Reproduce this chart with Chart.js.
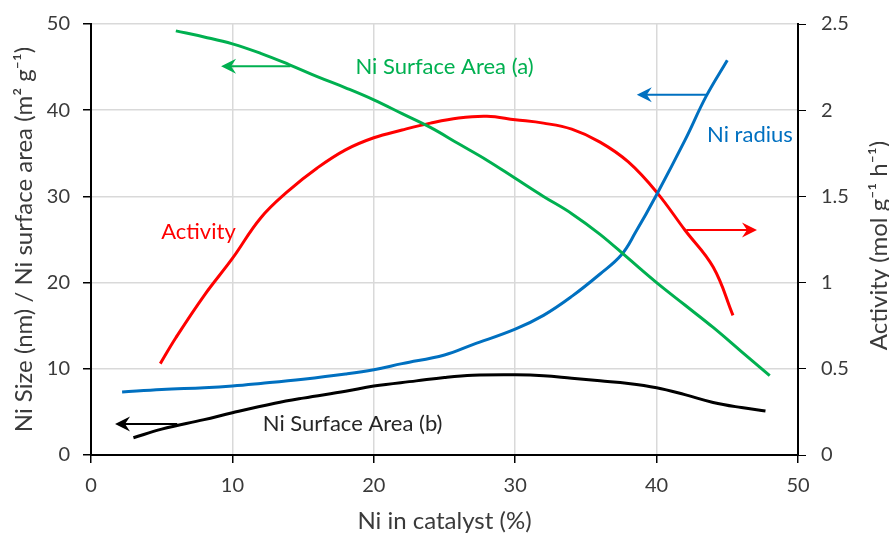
<!DOCTYPE html>
<html>
<head>
<meta charset="utf-8">
<style>
  html, body { margin: 0; padding: 0; background: #fff; }
  #wrap { width: 889px; height: 536px; }
</style>
<script src="https://cdn.jsdelivr.net/npm/chart.js@4/dist/chart.umd.min.js"></script>
</head>
<body>
<div id="wrap"><canvas id="myChart"></canvas></div>
<script>
// data (x = Ni in catalyst %)
const areaA_x = [6, 8, 10, 12, 14, 16, 18, 20, 22, 24, 26, 28, 30, 32, 34, 36, 38, 40, 42, 44, 46, 48];
const areaA_y = [49.2, 48.5, 47.7, 46.6, 45.3, 43.9, 42.6, 41.2, 39.6, 38.0, 36.1, 34.2, 32.1, 30.0, 28.0, 25.6, 22.8, 20.0, 17.4, 14.8, 12.0, 9.2];

const radius_x = [2.2, 5, 8, 10, 12, 15, 18, 20, 22, 25, 27, 30, 32, 34, 36, 37.5, 38.5, 40, 42, 43.5, 45];
const radius_y = [7.3, 7.6, 7.8, 8.0, 8.3, 8.8, 9.4, 9.9, 10.6, 11.6, 12.8, 14.6, 16.2, 18.4, 21.0, 23.2, 25.8, 30.2, 36.5, 41.6, 45.8];

const areaB_x = [3, 5, 8, 10, 13, 15, 18, 20, 23, 25, 27, 30, 32, 34, 36, 38, 40, 42, 44, 46, 47.7];
const areaB_y = [2.0, 3.0, 4.1, 4.9, 6.0, 6.6, 7.4, 8.0, 8.6, 9.0, 9.25, 9.3, 9.2, 8.9, 8.6, 8.3, 7.8, 7.0, 6.1, 5.5, 5.1];

const activity_x = [4.9, 6, 8, 10, 12, 14, 16, 18, 20, 22, 24, 26, 28, 30, 32, 34, 36, 38, 40, 42, 44, 45.4];
const activity_y = [0.53, 0.68, 0.925, 1.14, 1.375, 1.535, 1.665, 1.77, 1.84, 1.885, 1.925, 1.955, 1.965, 1.945, 1.925, 1.89, 1.815, 1.7, 1.525, 1.305, 1.09, 0.81];

const xTicks = [0, 10, 20, 30, 40, 50];
const leftTicks = [0, 10, 20, 30, 40, 50];
const rightTicks = [0, 0.5, 1, 1.5, 2, 2.5];

// labels and arrows, in data units of the x axis and the left axis
const notes = [
  { text: "Ni Surface Area (a)", x: 25.0, y: 45.0, color: "#00b050" },
  { text: "Ni radius", x: 46.6, y: 37.1, color: "#0070c0" },
  { text: "Activity", x: 7.6, y: 25.9, color: "#ff0000" },
  { text: "Ni Surface Area (b)", x: 18.5, y: 3.6, color: "#262626" },
];
const arrows = [
  { x1: 14.1, x2: 9.2, y: 45.1, color: "#00b050" },
  { x1: 43.5, x2: 38.6, y: 41.8, color: "#0070c0" },
  { x1: 42.1, x2: 47.1, y: 26.1, color: "#ff0000" },
  { x1: 6.1, x2: 1.7, y: 3.6, color: "#000000" },
];

const rightTitle = "Activity (mol g\u207b\u00b9 h\u207b\u00b9)";

function toPoints(xs, ys) {
  return xs.map((x, i) => ({ x: x, y: ys[i] }));
}

const font = "Lato, 'Open Sans', sans-serif";
const textColor = "#3a3a3a";

// fixed side width, and no extra room asked above/below for the tick labels
function fitSide(s) {
  s.width = 91;
  s.paddingTop = 0;
  s.paddingBottom = 0;
}

const notesPlugin = {
  id: "notes",
  afterDatasetsDraw(chart) {
    const ctx = chart.ctx;
    const xs = chart.scales.x;
    const ys = chart.scales.y;
    ctx.save();
    arrows.forEach((a) => {
      let px1 = xs.getPixelForValue(a.x1);
      let px2 = xs.getPixelForValue(a.x2);
      let py = ys.getPixelForValue(a.y);
      let dir = px2 > px1 ? 1 : -1;
      ctx.strokeStyle = a.color;
      ctx.fillStyle = a.color;
      ctx.lineWidth = 2;
      ctx.beginPath();
      ctx.moveTo(px1, py);
      ctx.lineTo(px2 - dir * 8, py);
      ctx.stroke();
      ctx.beginPath();
      ctx.moveTo(px2, py);
      ctx.lineTo(px2 - dir * 15, py - 7.5);
      ctx.lineTo(px2 - dir * 10, py);
      ctx.lineTo(px2 - dir * 15, py + 7.5);
      ctx.closePath();
      ctx.fill();
    });
    ctx.font = "22px " + font;
    ctx.textAlign = "center";
    ctx.textBaseline = "middle";
    notes.forEach((n) => {
      ctx.fillStyle = n.color;
      ctx.fillText(n.text, xs.getPixelForValue(n.x), ys.getPixelForValue(n.y));
    });

    // right axis title reads bottom to top
    ctx.translate(879, (chart.chartArea.top + chart.chartArea.bottom) / 2 + 6);
    ctx.rotate(-Math.PI / 2);
    ctx.fillStyle = textColor;
    ctx.font = "24px " + font;
    ctx.fillText(rightTitle, 0, 0);
    ctx.restore();
  },
};

function line(label, pts, color, axis) {
  return {
    label: label,
    data: pts,
    yAxisID: axis,
    showLine: true,
    borderColor: color,
    backgroundColor: color,
    borderWidth: 3,
    pointRadius: 0,
    tension: 0.4,
    fill: false,
  };
}

const ctx = document.getElementById("myChart").getContext("2d");
const myChart = new Chart(ctx, {
  type: "scatter",
  data: {
    datasets: [
      line("Ni Surface Area (a)", toPoints(areaA_x, areaA_y), "#00b050", "y"),
      line("Ni radius", toPoints(radius_x, radius_y), "#0070c0", "y"),
      line("Ni Surface Area (b)", toPoints(areaB_x, areaB_y), "#000000", "y"),
      line("Activity", toPoints(activity_x, activity_y), "#ff0000", "y2"),
    ],
  },
  options: {
    responsive: true,
    maintainAspectRatio: false,
    animation: false,
    layout: { padding: { top: 24, left: 0, right: 0, bottom: 0 } },
    plugins: {
      legend: { display: false },
      tooltip: { enabled: false },
    },
    scales: {
      x: {
        type: "linear",
        min: 0,
        max: 50,
        afterBuildTicks: (s) => { s.ticks = xTicks.map((v) => ({ value: v })); },
        afterFit: (s) => { s.height = 81; },
        border: { color: "#000", width: 2 },
        grid: { color: "#d9d9d9", lineWidth: 1.5, tickColor: "#000", tickLength: 8 },
        ticks: { color: textColor, padding: 11, font: { family: font, size: 20 } },
        title: {
          display: true,
          text: "Ni in catalyst (%)",
          color: textColor,
          font: { family: font, size: 24 },
          padding: { top: 0, bottom: 0 },
        },
      },
      y: {
        type: "linear",
        position: "left",
        min: 0,
        max: 50,
        afterBuildTicks: (s) => { s.ticks = leftTicks.map((v) => ({ value: v })); },
        afterFit: fitSide,
        border: { color: "#000", width: 2 },
        grid: { color: "#d9d9d9", lineWidth: 1.5, tickColor: "#000", tickLength: 8 },
        ticks: { color: textColor, padding: 13, font: { family: font, size: 20 } },
        title: {
          display: true,
          text: "Ni Size (nm) / Ni surface area (m\u00b2 g\u207b\u00b9)",
          color: textColor,
          font: { family: font, size: 24 },
          padding: { top: 10, bottom: 0 },
        },
      },
      y2: {
        type: "linear",
        position: "right",
        min: 0,
        max: 2.5,
        afterBuildTicks: (s) => { s.ticks = rightTicks.map((v) => ({ value: v })); },
        afterFit: fitSide,
        border: { color: "#000", width: 2 },
        grid: { drawOnChartArea: false, tickColor: "#000", tickLength: 8 },
        ticks: {
          color: textColor,
          padding: 15,
          font: { family: font, size: 20 },
          callback: (v) => String(v),
        },
      },
    },
  },
  plugins: [notesPlugin],
});
</script>
</body>
</html>
